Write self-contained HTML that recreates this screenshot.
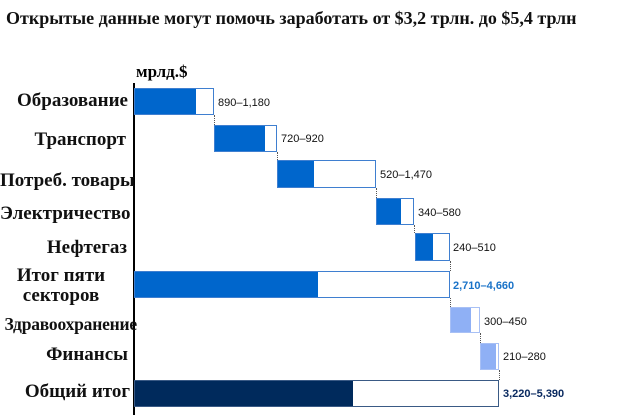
<!DOCTYPE html><html><head><meta charset="utf-8"><style>
body{margin:0;width:630px;height:419px;background:#fff;position:relative;overflow:hidden;font-family:"Liberation Sans",sans-serif}
.a{position:absolute}
.t{position:absolute;font-family:"Liberation Serif",serif;font-weight:bold;font-size:19px;color:#111;text-align:right;width:130px;left:0;line-height:20px;white-space:nowrap}
.o{position:absolute;border:1px solid #3f7fd0;box-sizing:border-box;background:#fff}
.f{position:absolute;top:0;bottom:0;left:0}
.v{position:absolute;font-size:11px;color:#111}
.d{position:absolute;border-left:1px dotted #555;width:0}
</style></head><body>
<div class="a" style="left:6px;top:8px;font-family:'Liberation Serif',serif;font-weight:bold;font-size:18px;color:#111">Открытые данные могут помочь заработать от $3,2 трлн. до $5,4 трлн</div>
<div class="a" style="left:136px;top:62px;font-family:'Liberation Serif',serif;font-weight:bold;font-size:17px">мрлд.$</div>
<div class="a" style="left:133px;top:83px;width:2px;height:332px;background:#000"></div>

<div class="t" style="top:91px;width:128px">Образование</div>
<div class="t" style="top:130px;width:126px">Транспорт</div>
<div class="t" style="top:171px;width:127px">Потреб. товары</div>
<div class="t" style="top:204px;width:125px">Электричество</div>
<div class="t" style="top:238px;width:127px">Нефтегаз</div>
<div class="t" style="top:266px;width:122px;text-align:center">Итог пяти<br>секторов</div>
<div class="t" style="top:314px;left:auto;width:auto;right:493px;font-size:17.5px;letter-spacing:-0.2px">Здравоохранение</div>
<div class="t" style="top:345px;width:128px">Финансы</div>
<div class="t" style="top:382px;width:130px">Общий итог</div>

<div class="o" style="left:134px;top:88px;width:80px;height:27px"><div class="f" style="width:61px;background:#0066cc"></div></div>
<div class="v" style="left:218px;top:97px">890–1,180</div>
<div class="d" style="left:214px;top:115px;height:10px"></div>
<div class="o" style="left:214px;top:125px;width:63px;height:27px"><div class="f" style="width:50px;background:#0066cc"></div></div>
<div class="v" style="left:281px;top:133px">720–920</div>
<div class="d" style="left:277px;top:152px;height:8px"></div>
<div class="o" style="left:277px;top:160px;width:99px;height:28px"><div class="f" style="width:36px;background:#0066cc"></div></div>
<div class="v" style="left:380px;top:169px">520–1,470</div>
<div class="d" style="left:376px;top:188px;height:10px"></div>
<div class="o" style="left:376px;top:198px;width:38px;height:27px"><div class="f" style="width:24px;background:#0066cc"></div></div>
<div class="v" style="left:418px;top:207px">340–580</div>
<div class="d" style="left:414px;top:225px;height:8px"></div>
<div class="o" style="left:415px;top:233px;width:35px;height:28px"><div class="f" style="width:17px;background:#0066cc"></div></div>
<div class="v" style="left:453px;top:242px">240–510</div>
<div class="d" style="left:450px;top:261px;height:10px"></div>
<div class="o" style="left:134px;top:271px;width:316px;height:27px"><div class="f" style="width:183px;background:#0066cc"></div></div>
<div class="v" style="left:453px;top:280px;color:#1a73c8;font-weight:bold">2,710–4,660</div>
<div class="d" style="left:450px;top:298px;height:9px"></div>
<div class="o" style="left:450px;top:307px;width:30px;height:26px;border-color:#a8c0f5"><div class="f" style="width:20px;background:#8fb0f5"></div></div>
<div class="v" style="left:484px;top:316px">300–450</div>
<div class="d" style="left:480px;top:333px;height:10px"></div>
<div class="o" style="left:480px;top:343px;width:19px;height:27px;border-color:#a8c0f5"><div class="f" style="width:15px;background:#8fb0f5"></div></div>
<div class="v" style="left:503px;top:351px">210–280</div>
<div class="d" style="left:499px;top:370px;height:10px"></div>
<div class="o" style="left:134px;top:380px;width:365px;height:27px;border-color:#3a5a85"><div class="f" style="width:218px;background:#002a5c"></div></div>
<div class="v" style="left:503px;top:388px;color:#0a2a60;font-weight:bold">3,220–5,390</div>
</body></html>
